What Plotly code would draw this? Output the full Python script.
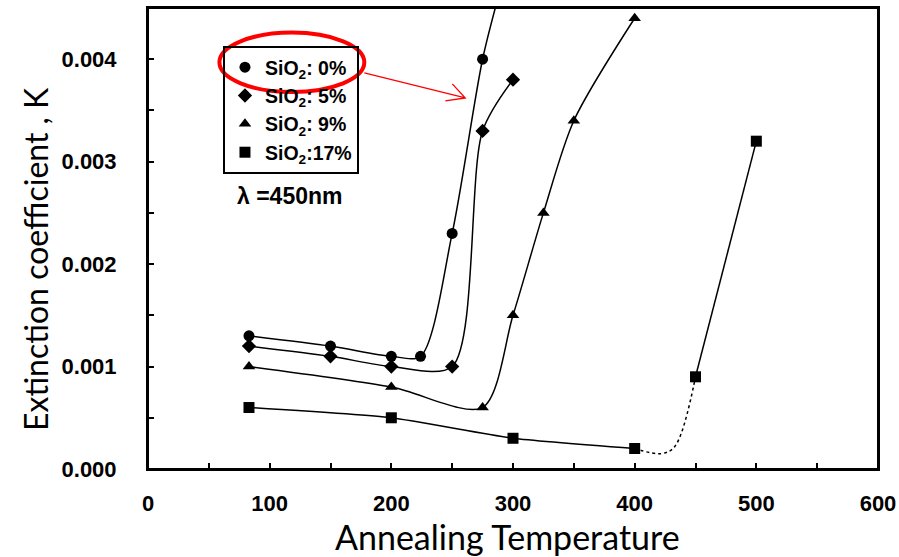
import plotly.graph_objects as go

# ---- data ----
temp_0 = [83, 150, 200, 224, 250, 275]
k_0 = [0.0013, 0.0012, 0.0011, 0.0011, 0.0023, 0.0040]
temp_5 = [83, 150, 200, 250, 275, 300]
k_5 = [0.0012, 0.0011, 0.0010, 0.0010, 0.0033, 0.0038]
temp_9 = [83, 200, 275, 300, 325, 350, 400]
k_9 = [0.0010, 0.0008, 0.0006, 0.0015, 0.0025, 0.0034, 0.0044]
temp_17 = [83, 200, 300, 400, 450, 500]
k_17 = [0.0006, 0.0005, 0.0003, 0.0002, 0.0009, 0.0032]

# guide curves (hand-drawn trend lines in the reference)
curve0_x = temp_0 + [290]
curve0_y = k_0 + [0.0047]
dotted_x = [400, 422, 433, 450]
dotted_y = [0.0002, 0.00015, 0.00022, 0.0009]

series_names = ["SiO<sub>2</sub>: 0%", "SiO<sub>2</sub>: 5%", "SiO<sub>2</sub>: 9%", "SiO<sub>2</sub>:17%"]
symbols = ["circle", "diamond", "triangle-up", "square"]
marker_sizes = [11, 11, 11, 11]

x_ticks = [0, 100, 200, 300, 400, 500, 600]
y_ticks = [0.000, 0.001, 0.002, 0.003, 0.004]

LINE = dict(color="black", width=1.5)
fig = go.Figure()

# trend lines
fig.add_trace(go.Scatter(x=curve0_x, y=curve0_y, mode="lines", line=dict(LINE, shape="spline", smoothing=0.8), showlegend=False, hoverinfo="skip"))
fig.add_trace(go.Scatter(x=temp_5, y=k_5, mode="lines", line=dict(LINE, shape="spline", smoothing=0.8), showlegend=False, hoverinfo="skip"))
fig.add_trace(go.Scatter(x=temp_9, y=k_9, mode="lines", line=dict(LINE, shape="spline", smoothing=0.8), showlegend=False, hoverinfo="skip"))
fig.add_trace(go.Scatter(x=temp_17[:4], y=k_17[:4], mode="lines", line=dict(LINE, shape="spline", smoothing=0.5), showlegend=False, hoverinfo="skip"))
fig.add_trace(go.Scatter(x=dotted_x, y=dotted_y, mode="lines", line=dict(color="black", width=1.5, dash="dot", shape="spline", smoothing=1), showlegend=False, hoverinfo="skip"))
fig.add_trace(go.Scatter(x=temp_17[4:], y=k_17[4:], mode="lines", line=LINE, showlegend=False, hoverinfo="skip"))

# markers
for i, (xs, ys) in enumerate([(temp_0, k_0), (temp_5, k_5), (temp_9, k_9), (temp_17, k_17)]):
    fig.add_trace(go.Scatter(
        x=xs, y=ys, mode="markers", name=series_names[i], legendgroup=str(i),
        marker=dict(symbol=symbols[i], size=marker_sizes[i], color="black"),
    ))

tick_font = dict(family="Liberation Sans", size=22, color="black", weight="bold")

fig.update_xaxes(
    range=[0, 600], tickvals=x_ticks, ticktext=[str(v) for v in x_ticks],
    ticks="inside", ticklen=6, tickwidth=1.5, tickcolor="black",
    minor=dict(ticks="inside", ticklen=6, tickwidth=1.5, tickcolor="black", dtick=50),
    showline=True, linecolor="black", linewidth=2, mirror=True,
    showgrid=False, zeroline=False, tickfont=tick_font, ticklabelstandoff=14,
    automargin=False,
)
fig.update_yaxes(
    range=[0, 0.0045], tickvals=y_ticks, ticktext=[f"{v:.3f}" for v in y_ticks],
    ticks="inside", ticklen=6, tickwidth=1.5, tickcolor="black",
    minor=dict(ticks="inside", ticklen=6, tickwidth=1.5, tickcolor="black", dtick=0.0005),
    showline=True, linecolor="black", linewidth=2, mirror=True,
    showgrid=False, zeroline=False, tickfont=tick_font, ticklabelstandoff=25,
    automargin=False,
)

fig.update_layout(
    width=899, height=557,
    margin=dict(l=148, r=21, t=8, b=88),
    plot_bgcolor="white", paper_bgcolor="white",
    legend=dict(
        x=0.1027, y=0.9176, xanchor="left", yanchor="top",
        bordercolor="black", borderwidth=2, bgcolor="rgba(0,0,0,0)",
        font=dict(family="Liberation Sans", size=19.5, color="black", weight="bold"),
        tracegroupgap=0, itemwidth=30,
    ),
    shapes=[
        # plot frame
        dict(type="rect", xref="paper", yref="paper", x0=0, x1=1, y0=0, y1=1,
             line=dict(color="black", width=2), layer="below"),
        dict(type="circle", xref="x", yref="y", x0=58.7, x1=177.8, y0=0.00368, y1=0.00426,
             line=dict(color="red", width=4)),
        dict(type="path", xref="x", yref="y",
             path="M 177.8 0.003866 L 260.8 0.003622 M 250.1 0.003759 L 260.8 0.003622 L 244.4 0.003593",
             line=dict(color="red", width=1.3)),
    ],
    annotations=[
        dict(x=71.9, y=0.002668, xref="x", yref="y", text="λ =450nm", showarrow=False,
             xanchor="left", yanchor="middle",
             font=dict(family="Liberation Sans", size=23, color="black", weight="bold")),
        dict(x=0.4925, y=-0.1475, xref="paper", yref="paper", text="Annealing Temperature",
             showarrow=False, xanchor="center", yanchor="middle",
             font=dict(family="Lato", size=34, color="black")),
        dict(x=-0.1548, y=0.4555, xref="paper", yref="paper", text="Extinction coefficient , K",
             showarrow=False, xanchor="center", yanchor="middle", textangle=-90,
             font=dict(family="Lato", size=32, color="black")),
    ],
)

# remove the default 8px page margin so the figure fills the window exactly
fig.write_html("out.html", config={"displayModeBar": False},
               post_script="document.body.style.margin='0px';")
